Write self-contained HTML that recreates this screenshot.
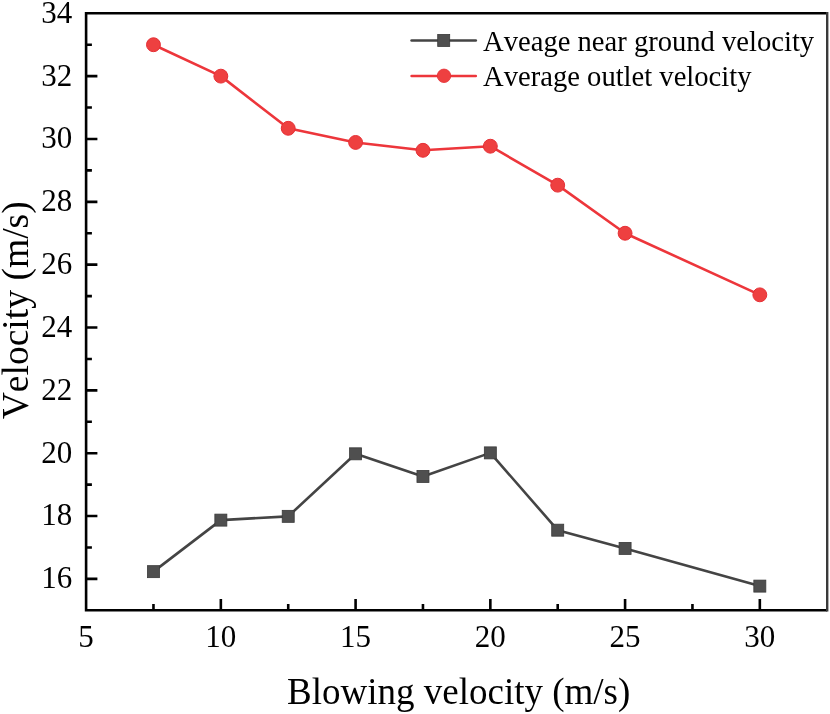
<!DOCTYPE html><html><head><meta charset="utf-8"><style>html,body{margin:0;padding:0;background:#fff;}svg{display:block;will-change:transform;}text{font-family:"Liberation Serif",serif;fill:#000;font-kerning:none;}</style></head><body>
<svg width="830" height="714" viewBox="0 0 830 714">
<path d="M86.10 12.00V611.60M84.80 610.30H827.20M84.80 13.30H827.20" stroke="#000" stroke-width="2.6" fill="none"/>
<path d="M827.20 12.00V611.60" stroke="#3a3a3a" stroke-width="2.4" fill="none"/>
<path d="M86.10 578.88h11.30 M86.10 547.46h5.80 M86.10 516.04h11.30 M86.10 484.62h5.80 M86.10 453.19h11.30 M86.10 421.77h5.80 M86.10 390.35h11.30 M86.10 358.93h5.80 M86.10 327.51h11.30 M86.10 296.09h5.80 M86.10 264.67h11.30 M86.10 233.25h5.80 M86.10 201.83h11.30 M86.10 170.41h5.80 M86.10 138.98h11.30 M86.10 107.56h5.80 M86.10 76.14h11.30 M86.10 44.72h5.80 M153.47 610.30v-6.30 M220.85 610.30v-11.30 M288.22 610.30v-6.30 M355.59 610.30v-11.30 M422.96 610.30v-6.30 M490.34 610.30v-11.30 M557.71 610.30v-6.30 M625.08 610.30v-11.30 M692.45 610.30v-6.30 M759.83 610.30v-11.30" stroke="#000" stroke-width="2.6" fill="none"/>
<text x="72.2" y="588.28" font-size="31" text-anchor="end">16</text>
<text x="72.2" y="525.44" font-size="31" text-anchor="end">18</text>
<text x="72.2" y="462.59" font-size="31" text-anchor="end">20</text>
<text x="72.2" y="399.75" font-size="31" text-anchor="end">22</text>
<text x="72.2" y="336.91" font-size="31" text-anchor="end">24</text>
<text x="72.2" y="274.07" font-size="31" text-anchor="end">26</text>
<text x="72.2" y="211.23" font-size="31" text-anchor="end">28</text>
<text x="72.2" y="148.38" font-size="31" text-anchor="end">30</text>
<text x="72.2" y="85.54" font-size="31" text-anchor="end">32</text>
<text x="72.2" y="22.70" font-size="31" text-anchor="end">34</text>
<text x="86.10" y="646.9" font-size="31" text-anchor="middle">5</text>
<text x="220.85" y="646.9" font-size="31" text-anchor="middle">10</text>
<text x="355.59" y="646.9" font-size="31" text-anchor="middle">15</text>
<text x="490.34" y="646.9" font-size="31" text-anchor="middle">20</text>
<text x="625.08" y="646.9" font-size="31" text-anchor="middle">25</text>
<text x="759.83" y="646.9" font-size="31" text-anchor="middle">30</text>
<text x="458.7" y="703.7" font-size="37" text-anchor="middle">Blowing velocity (m/s)</text>
<text transform="translate(28 310.3) rotate(-90)" font-size="37.6" text-anchor="middle">Velocity (m/s)</text>
<polyline points="153.47,571.65 220.85,520.12 288.22,516.35 355.59,453.82 422.96,476.45 490.34,452.88 557.71,530.18 625.08,548.40 759.83,586.11" fill="none" stroke="#444444" stroke-width="2.6" stroke-linejoin="round"/>
<polyline points="153.47,44.72 220.85,76.14 288.22,128.30 355.59,142.44 422.96,150.30 490.34,146.21 557.71,185.17 625.08,233.25 759.83,294.83" fill="none" stroke="#ed363b" stroke-width="2.6" stroke-linejoin="round"/>
<rect x="147.47" y="565.65" width="12.0" height="12.0" fill="#4f4f4f" stroke="#3a3a3a" stroke-width="0.8"/>
<rect x="214.85" y="514.12" width="12.0" height="12.0" fill="#4f4f4f" stroke="#3a3a3a" stroke-width="0.8"/>
<rect x="282.22" y="510.35" width="12.0" height="12.0" fill="#4f4f4f" stroke="#3a3a3a" stroke-width="0.8"/>
<rect x="349.59" y="447.82" width="12.0" height="12.0" fill="#4f4f4f" stroke="#3a3a3a" stroke-width="0.8"/>
<rect x="416.96" y="470.45" width="12.0" height="12.0" fill="#4f4f4f" stroke="#3a3a3a" stroke-width="0.8"/>
<rect x="484.34" y="446.88" width="12.0" height="12.0" fill="#4f4f4f" stroke="#3a3a3a" stroke-width="0.8"/>
<rect x="551.71" y="524.18" width="12.0" height="12.0" fill="#4f4f4f" stroke="#3a3a3a" stroke-width="0.8"/>
<rect x="619.08" y="542.40" width="12.0" height="12.0" fill="#4f4f4f" stroke="#3a3a3a" stroke-width="0.8"/>
<rect x="753.83" y="580.11" width="12.0" height="12.0" fill="#4f4f4f" stroke="#3a3a3a" stroke-width="0.8"/>
<circle cx="153.47" cy="44.72" r="6.95" fill="#ee4040" stroke="#e52f35" stroke-width="1.0"/>
<circle cx="220.85" cy="76.14" r="6.95" fill="#ee4040" stroke="#e52f35" stroke-width="1.0"/>
<circle cx="288.22" cy="128.30" r="6.95" fill="#ee4040" stroke="#e52f35" stroke-width="1.0"/>
<circle cx="355.59" cy="142.44" r="6.95" fill="#ee4040" stroke="#e52f35" stroke-width="1.0"/>
<circle cx="422.96" cy="150.30" r="6.95" fill="#ee4040" stroke="#e52f35" stroke-width="1.0"/>
<circle cx="490.34" cy="146.21" r="6.95" fill="#ee4040" stroke="#e52f35" stroke-width="1.0"/>
<circle cx="557.71" cy="185.17" r="6.95" fill="#ee4040" stroke="#e52f35" stroke-width="1.0"/>
<circle cx="625.08" cy="233.25" r="6.95" fill="#ee4040" stroke="#e52f35" stroke-width="1.0"/>
<circle cx="759.83" cy="294.83" r="6.95" fill="#ee4040" stroke="#e52f35" stroke-width="1.0"/>
<path d="M411.6 40.5H475.8" stroke="#444444" stroke-width="2.6" stroke-linecap="round"/>
<rect x="437.70" y="34.45" width="12.0" height="12.0" fill="#4f4f4f" stroke="#3a3a3a" stroke-width="0.8"/>
<path d="M411.6 76.0H475.8" stroke="#ed363b" stroke-width="2.6" stroke-linecap="round"/>
<circle cx="444" cy="75.8" r="6.75" fill="#ee4040" stroke="#e52f35" stroke-width="0.8"/>
<text x="483.1" y="50.5" font-size="28.6">Aveage near ground velocity</text>
<text x="483.1" y="85.8" font-size="28.6">Average outlet velocity</text>
</svg></body></html>
